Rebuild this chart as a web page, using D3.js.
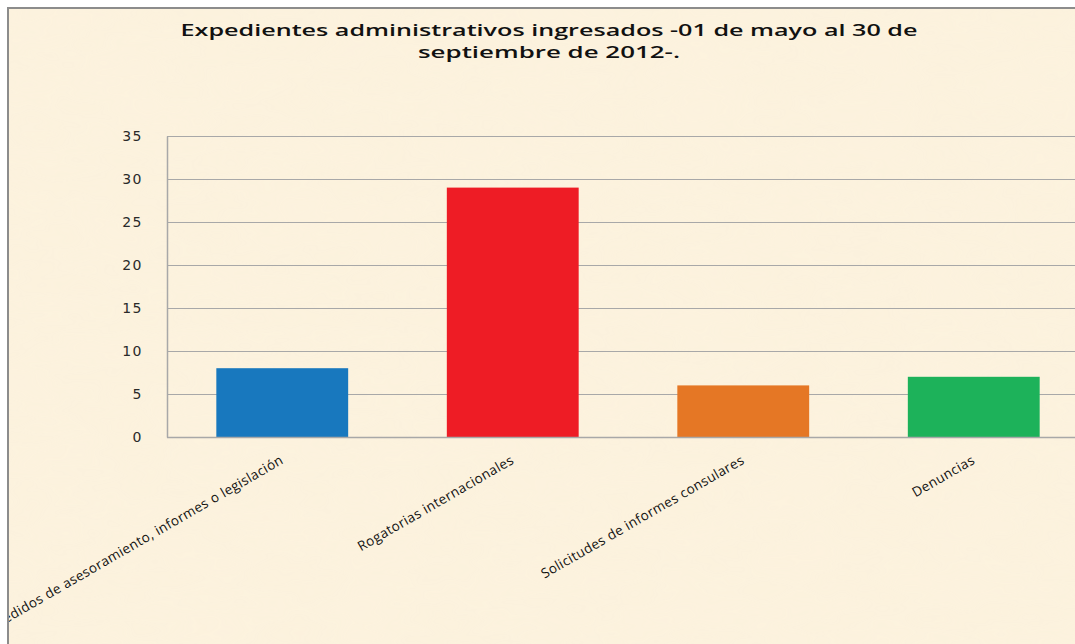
<!DOCTYPE html>
<html>
<head>
<meta charset="utf-8">
<script src="https://cdn.jsdelivr.net/npm/d3@7"></script>
<style>
  html, body { margin: 0; padding: 0; background: #ffffff; overflow: hidden; }
  svg { display: block; }
</style>
</head>
<body>
<svg id="chart" width="1075" height="644"></svg>
<script>
// ---- data ----
const categories = [
  "Pedidos de asesoramiento, informes o legislación",
  "Rogatorias internacionales",
  "Solicitudes de informes consulares",
  "Denuncias"
];
const values = [8, 29, 6, 7];
const barColors = ["#1878BE", "#EE1C25", "#E57725", "#1DB25A"];
const yTicks = [0, 5, 10, 15, 20, 25, 30, 35];
const titleLines = [
  "Expedientes administrativos ingresados -01 de mayo al 30 de",
  "septiembre de 2012-."
];

const W = 1075, H = 644;
const svg = d3.select("#chart");
const defs = svg.append("defs");

// parchment texture
const f = defs.append("filter").attr("id", "paper").attr("x", 0).attr("y", 0).attr("width", "100%").attr("height", "100%");
f.append("feTurbulence").attr("type", "fractalNoise").attr("baseFrequency", "0.012 0.03").attr("numOctaves", 3).attr("seed", 4).attr("result", "noise");
f.append("feColorMatrix").attr("in", "noise").attr("type", "matrix")
  .attr("values", "0 0 0 0 0.96  0 0 0 0 0.88  0 0 0 0 0.70  0 0 0 0.35 0").attr("result", "tint");
f.append("feComposite").attr("in", "tint").attr("in2", "SourceGraphic").attr("operator", "in");

defs.append("clipPath").attr("id", "frameClip")
  .append("rect").attr("x", 9).attr("y", 9).attr("width", W).attr("height", H);

const frame = svg.append("g");
frame.append("rect").attr("x", 8).attr("y", 8).attr("width", W + 20).attr("height", H + 20)
  .attr("fill", "#FCF2DE");
frame.append("rect").attr("x", 8).attr("y", 8).attr("width", W + 20).attr("height", H + 20)
  .attr("fill", "#FCF2DE").attr("filter", "url(#paper)").attr("opacity", 0.6);
frame.append("rect").attr("x", 8).attr("y", 8).attr("width", W + 20).attr("height", H + 20)
  .attr("fill", "none").attr("stroke", "#8C8C8C").attr("stroke-width", 2);

const g = svg.append("g").attr("clip-path", "url(#frameClip)");

// scales
const plotLeft = 167, plotTop = 136, plotBottom = 437;
const step = 230.5;
const x = d3.scaleBand().domain(categories)
  .range([plotLeft, plotLeft + step * categories.length])
  .paddingInner(0.428).paddingOuter(0.214);
const y = d3.scaleLinear().domain([0, 35]).range([plotBottom, plotTop]);
const plotRight = plotLeft + step * categories.length;

// gridlines
g.append("g").selectAll("line").data(yTicks.filter(d => d > 0)).join("line")
  .attr("x1", plotLeft).attr("x2", plotRight)
  .attr("y1", d => Math.round(y(d)) + 0.5).attr("y2", d => Math.round(y(d)) + 0.5)
  .attr("stroke", "#A8A8A8").attr("stroke-width", 1);

// y axis
const yAxis = d3.axisLeft(y).tickValues(yTicks).tickSize(0).tickPadding(24);
const ya = g.append("g").attr("transform", `translate(${plotLeft},0)`).call(yAxis);
ya.select(".domain").attr("stroke", "#A8A8A8").attr("stroke-width", 1.5);
ya.selectAll("text").attr("font-family", "DejaVu Sans, Verdana, sans-serif")
  .attr("font-size", 14).attr("letter-spacing", 1.5).attr("fill", "#2a2a2a");

// bars
g.append("g").selectAll("rect").data(categories).join("rect")
  .attr("x", d => x(d)).attr("width", x.bandwidth())
  .attr("y", (d, i) => y(values[i]))
  .attr("height", (d, i) => y(0) - y(values[i]))
  .attr("fill", (d, i) => barColors[i]);

// baseline
g.append("line").attr("x1", plotLeft).attr("x2", plotRight)
  .attr("y1", plotBottom + 0.5).attr("y2", plotBottom + 0.5)
  .attr("stroke", "#A8A8A8").attr("stroke-width", 1.5);

// x axis labels
const xAxis = d3.axisBottom(x).tickSize(0).tickPadding(0);
const xa = g.append("g").attr("transform", `translate(0,${plotBottom})`).call(xAxis);
xa.select(".domain").remove();
xa.selectAll(".tick text")
  .attr("font-family", "Open Sans, Lato, sans-serif").attr("font-size", 13.5)
  .attr("letter-spacing", 0.4).attr("fill", "#111")
  .attr("text-anchor", "end")
  .attr("dy", "0.75em").attr("y", 0)
  .attr("transform", "translate(-3,17) rotate(-30)");

// title
const titleLens = [737, 262];
const t = g.append("text").attr("text-anchor", "middle")
  .attr("font-family", "Open Sans, Noto Sans, sans-serif").attr("font-weight", 600)
  .attr("font-size", 17).attr("fill", "#111");
titleLines.forEach((line, i) => {
  t.append("tspan").attr("x", 549).attr("y", 36 + i * 22)
    .attr("textLength", titleLens[i]).attr("lengthAdjust", "spacingAndGlyphs").text(line);
});
</script>
</body>
</html>
